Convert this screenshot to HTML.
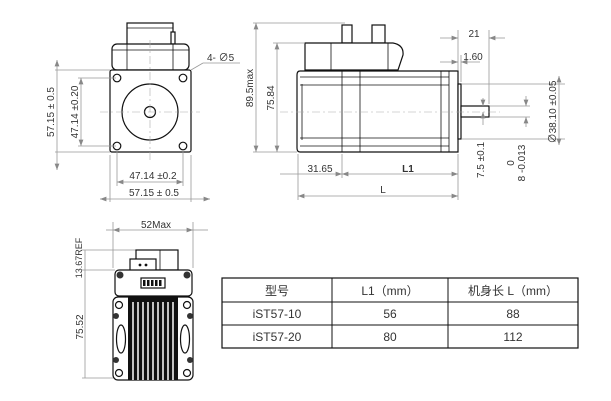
<!DOCTYPE html>
<html><head><meta charset="utf-8"><style>
body{margin:0;background:#fff}
svg{display:block}
text{font-family:"Liberation Sans","Noto Sans CJK SC",sans-serif;fill:#333}
.d{stroke:#999;stroke-width:.8;fill:none}
.k{stroke:#111;stroke-width:1.2;fill:#fff}
.t{stroke:#111;stroke-width:.8;fill:none}
.c{stroke:#aaa;stroke-width:.6;stroke-dasharray:8 3 2 3;fill:none}
</style></head><body>
<svg width="611" height="401" viewBox="0 0 611 401">
<defs><marker id="a" markerWidth="8" markerHeight="6" refX="8" refY="3" orient="auto-start-reverse"><path d="M0,0 L8,3 L0,6z" fill="#888"/></marker></defs>
<!-- FRONT VIEW -->
<rect x="127" y="23" width="46" height="22" class="k"/>
<line x1="127" y1="28" x2="173" y2="28" class="t"/>
<rect x="171" y="32" width="4" height="12" class="k"/>
<rect x="112" y="44" width="77" height="26" rx="5" class="k"/>
<line x1="127" y1="44" x2="127" y2="70" class="t"/><line x1="173" y1="44" x2="173" y2="70" class="t"/>
<line x1="112" y1="50" x2="189" y2="50" class="t"/>
<rect x="110" y="70" width="81" height="82" rx="2" class="k"/>
<circle cx="117" cy="78" r="3.8" class="k"/><circle cx="183" cy="78" r="3.8" class="k"/>
<circle cx="117" cy="146" r="3.8" class="k"/><circle cx="183" cy="146" r="3.8" class="k"/>
<circle cx="150" cy="112" r="28" class="k"/>
<circle cx="150" cy="112" r="5.5" class="k" stroke-width="1.6"/>
<line x1="150" y1="40" x2="150" y2="160" class="c"/><line x1="100" y1="112" x2="200" y2="112" class="c"/>
<line x1="55" y1="70" x2="110" y2="70" class="d"/><line x1="55" y1="152" x2="110" y2="152" class="d"/>
<line x1="57" y1="60" x2="57" y2="170" class="d" marker-start="url(#a)" marker-end="url(#a)"/>
<text x="0" y="0" font-size="10" transform="translate(54,112) rotate(-90)" text-anchor="middle">57.15 ± 0.5</text>
<line x1="78" y1="78" x2="116" y2="78" class="d"/><line x1="78" y1="146" x2="116" y2="146" class="d"/>
<line x1="81" y1="78" x2="81" y2="146" class="d" marker-start="url(#a)" marker-end="url(#a)"/>
<text font-size="10" transform="translate(78,112) rotate(-90)" text-anchor="middle">47.14 ±0.20</text>
<line x1="117" y1="150" x2="117" y2="186" class="d"/><line x1="183" y1="150" x2="183" y2="186" class="d"/>
<line x1="117" y1="182" x2="183" y2="182" class="d" marker-start="url(#a)" marker-end="url(#a)"/>
<text x="153" y="179" font-size="10" text-anchor="middle">47.14 ±0.2</text>
<line x1="110" y1="155" x2="110" y2="202" class="d"/><line x1="191" y1="155" x2="191" y2="202" class="d"/>
<line x1="100" y1="199" x2="210" y2="199" class="d" marker-start="url(#a)" marker-end="url(#a)"/>
<text x="154" y="196" font-size="10" text-anchor="middle">57.15 ± 0.5</text>
<line x1="191" y1="70" x2="203" y2="63" class="d"/><line x1="203" y1="63" x2="240" y2="63" class="d"/>
<text x="207" y="61" font-size="10">4- ∅5</text>
<!-- SIDE VIEW -->
<rect x="342" y="25" width="10" height="18" class="k"/><rect x="372" y="25" width="13" height="18" class="k"/>
<path d="M305,43 L393,43 Q404,45 403,55 L398,70 L305,70 Z" class="k"/>
<line x1="331" y1="43" x2="331" y2="152" class="t"/><line x1="388" y1="43" x2="388" y2="70" class="t"/>
<path d="M300,71 L458,71 L458,152 L300,152 Q297,152 297,148 L297,75 Q297,71 300,71Z" class="k"/>
<line x1="342" y1="71" x2="342" y2="152" class="t"/><line x1="360" y1="71" x2="360" y2="152" class="t"/>
<line x1="441" y1="71" x2="441" y2="152" class="t"/><line x1="449" y1="71" x2="449" y2="152" class="t"/>
<line x1="300" y1="77" x2="449" y2="77" class="t"/><line x1="300" y1="85" x2="449" y2="85" class="t"/>
<line x1="300" y1="138" x2="449" y2="138" class="t"/><line x1="300" y1="146" x2="449" y2="146" class="t"/>
<line x1="302" y1="84" x2="302" y2="140" class="t" stroke-width="1.6"/>
<rect x="458" y="84" width="3" height="55" class="k"/>
<rect x="461" y="106" width="28" height="11" class="k"/>
<line x1="280" y1="112" x2="500" y2="112" class="c"/>
<line x1="253" y1="23" x2="345" y2="23" class="d"/><line x1="253" y1="152" x2="297" y2="152" class="d"/>
<line x1="256" y1="23" x2="256" y2="152" class="d" marker-start="url(#a)" marker-end="url(#a)"/>
<text font-size="10" transform="translate(253,88) rotate(-90)" text-anchor="middle">89.5max</text>
<line x1="273" y1="43" x2="305" y2="43" class="d"/>
<line x1="277" y1="43" x2="277" y2="152" class="d" marker-start="url(#a)" marker-end="url(#a)"/>
<text font-size="10" transform="translate(274,98) rotate(-90)" text-anchor="middle">75.84</text>
<line x1="298" y1="154" x2="298" y2="200" class="d"/><line x1="342" y1="154" x2="342" y2="178" class="d"/><line x1="458" y1="154" x2="458" y2="200" class="d"/>
<line x1="280" y1="174" x2="342" y2="174" class="d" marker-end="url(#a)"/>
<line x1="342" y1="174" x2="458" y2="174" class="d" marker-start="url(#a)" marker-end="url(#a)"/>
<text x="320" y="172" font-size="10" text-anchor="middle">31.65</text>
<text x="408" y="172" font-size="10" font-weight="bold" text-anchor="middle">L1</text>
<line x1="298" y1="196" x2="458" y2="196" class="d" marker-start="url(#a)" marker-end="url(#a)"/>
<text x="383" y="193" font-size="10" text-anchor="middle">L</text>
<line x1="458" y1="30" x2="458" y2="70" class="d"/><line x1="489" y1="30" x2="489" y2="104" class="d"/>
<line x1="440" y1="38" x2="458" y2="38" class="d" marker-end="url(#a)"/><line x1="505" y1="38" x2="489" y2="38" class="d" marker-end="url(#a)"/>
<text x="474" y="37" font-size="10" text-anchor="middle">21</text>
<line x1="461" y1="55" x2="461" y2="82" class="d"/>
<line x1="440" y1="62" x2="458" y2="62" class="d" marker-end="url(#a)"/><line x1="480" y1="62" x2="461" y2="62" class="d" marker-end="url(#a)"/>
<text x="473" y="60" font-size="10" text-anchor="middle">1.60</text>
<line x1="483" y1="98" x2="483" y2="106" class="d" marker-end="url(#a)"/><line x1="483" y1="125" x2="483" y2="112" class="d" marker-end="url(#a)"/>
<text font-size="10" transform="translate(484,160) rotate(-90)" text-anchor="middle">7.5 ±0.1</text>
<line x1="490" y1="106" x2="530" y2="106" class="d"/><line x1="490" y1="117" x2="530" y2="117" class="d"/>
<line x1="526" y1="96" x2="526" y2="106" class="d" marker-end="url(#a)"/><line x1="526" y1="127" x2="526" y2="117" class="d" marker-end="url(#a)"/>
<text font-size="10" transform="translate(514,163) rotate(-90)" text-anchor="middle">0</text>
<text font-size="10" transform="translate(525,163) rotate(-90)" text-anchor="middle">8 -0.013</text>
<line x1="462" y1="84" x2="565" y2="84" class="d"/><line x1="462" y1="139" x2="565" y2="139" class="d"/>
<line x1="559" y1="76" x2="559" y2="145" class="d" marker-start="url(#a)" marker-end="url(#a)"/>
<text font-size="10" transform="translate(556,112) rotate(-90)" text-anchor="middle">∅38.10 ±0.05</text>
<!-- BOTTOM VIEW -->
<line x1="113" y1="222" x2="113" y2="268" class="d"/><line x1="193" y1="222" x2="193" y2="268" class="d"/>
<line x1="106" y1="230" x2="113" y2="230" class="d"/><line x1="113" y1="230" x2="193" y2="230" class="d" marker-start="url(#a)" marker-end="url(#a)"/><line x1="193" y1="230" x2="208" y2="230" class="d"/>
<text x="156" y="228" font-size="10" text-anchor="middle">52Max</text>
<line x1="82" y1="250" x2="136" y2="250" class="d"/><line x1="82" y1="270" x2="115" y2="270" class="d"/><line x1="82" y1="378" x2="113" y2="378" class="d"/>
<line x1="85" y1="250" x2="85" y2="378" class="d"/>
<text font-size="9" transform="translate(82,258) rotate(-90)" text-anchor="middle">13.67REF</text>
<text font-size="10" transform="translate(83,327) rotate(-90)" text-anchor="middle">75.52</text>
<rect x="136" y="250" width="42" height="20" class="k"/><line x1="160" y1="250" x2="160" y2="270" class="t"/>
<rect x="130" y="259" width="26" height="13" class="k"/>
<circle cx="140" cy="265" r="1.4" fill="#111"/><circle cx="146" cy="265" r="1.4" fill="#111"/>
<rect x="115" y="270" width="77" height="26" rx="4" class="k"/>
<circle cx="120" cy="275" r="3.5" fill="#333"/><circle cx="187" cy="275" r="3.5" fill="#333"/>
<rect x="141" y="278" width="24" height="10" class="k"/>
<g fill="#111"><rect x="143" y="280" width="2.5" height="6"/><rect x="147" y="280" width="2.5" height="6"/><rect x="151" y="280" width="2.5" height="6"/><rect x="155" y="280" width="2.5" height="6"/><rect x="159" y="280" width="2.5" height="6"/></g>
<rect x="113" y="297" width="80" height="83" rx="5" class="k"/>
<rect x="128" y="297" width="50" height="83" fill="#111"/>
<g stroke="#fff" stroke-width="1.5"><line x1="133" y1="302" x2="133" y2="380"/><line x1="138" y1="302" x2="138" y2="380"/><line x1="143" y1="302" x2="143" y2="380"/><line x1="148" y1="302" x2="148" y2="380"/><line x1="153" y1="302" x2="153" y2="380"/><line x1="158" y1="302" x2="158" y2="380"/><line x1="163" y1="302" x2="163" y2="380"/><line x1="168" y1="302" x2="168" y2="380"/><line x1="173" y1="302" x2="173" y2="380"/></g>
<circle cx="119" cy="305" r="3.5" class="k"/><circle cx="187" cy="305" r="3.5" class="k"/>
<circle cx="119" cy="373" r="3.5" class="k"/><circle cx="187" cy="373" r="3.5" class="k"/>
<circle cx="116" cy="316" r="3" fill="#333"/><circle cx="190" cy="316" r="3" fill="#333"/>
<circle cx="116" cy="360" r="3" fill="#333"/><circle cx="190" cy="360" r="3" fill="#333"/>
<ellipse cx="121" cy="339" rx="4.5" ry="14" class="k"/><ellipse cx="185" cy="339" rx="4.5" ry="14" class="k"/>
<!-- TABLE -->
<rect x="222" y="278" width="356" height="70" fill="#fff" stroke="#111" stroke-width="1.2"/>
<line x1="222" y1="302" x2="578" y2="302" stroke="#111"/><line x1="222" y1="325" x2="578" y2="325" stroke="#111"/>
<line x1="332" y1="278" x2="332" y2="348" stroke="#111"/><line x1="448" y1="278" x2="448" y2="348" stroke="#111"/>
<g font-size="12" text-anchor="middle">
<text x="277" y="295">型号</text><text x="390" y="295">L1（mm）</text><text x="513" y="295">机身长 L（mm）</text>
<text x="277" y="318">iST57-10</text><text x="390" y="318">56</text><text x="513" y="318">88</text>
<text x="277" y="341">iST57-20</text><text x="390" y="341">80</text><text x="513" y="341">112</text>
</g>
</svg>
</body></html>
